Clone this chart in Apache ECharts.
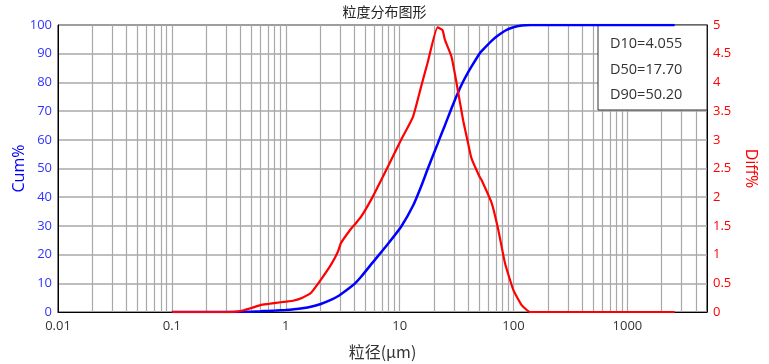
<!DOCTYPE html>
<html><head><meta charset="utf-8">
<script src="https://cdn.jsdelivr.net/npm/echarts@6/dist/echarts.min.js"></script>
<style>html,body{margin:0;padding:0;background:#fff}#c{width:769px;height:364px}</style>
</head><body><div id="c"></div>
<script>
const titleText = '粒度分布图形';
const xName = '粒径(μm)';
const leftName = 'Cum%';
const rightName = 'Diff%';
const statLines = ['D10=4.055', 'D50=17.70', 'D90=50.20'];

const sizes = [0.1, 0.2, 0.3, 0.385, 0.5, 0.6, 0.7, 0.82, 1.0, 1.18, 1.4, 1.66, 2.03, 2.49, 2.87, 3.05, 3.74, 4.06, 4.59, 5.81, 7.88, 10.3, 13.1, 15.5, 17.7, 21.5, 23.8, 25, 28.5, 31.6, 36.1, 39.9, 42.7, 50.2, 52.4, 64.2, 73.5, 84.2, 99.8, 117.9, 139.6, 200, 500, 1000, 2600];
const cumValues = [0, 0, 0, 0.02, 0.12, 0.25, 0.37, 0.5, 0.7, 0.95, 1.3, 1.8, 2.8, 4.2, 5.5, 6.2, 8.8, 10.0, 12.3, 17.3, 23.7, 29.7, 37.0, 43.9, 50.0, 58.5, 63.0, 65.1, 70.9, 75.3, 80.3, 83.5, 85.5, 90.0, 90.9, 94.5, 96.4, 98.0, 99.2, 99.8, 100, 100, 100, 100, 100];
const diffValues = [0, 0, 0, 0.01, 0.07, 0.12, 0.14, 0.16, 0.18, 0.20, 0.25, 0.33, 0.56, 0.82, 1.05, 1.2, 1.45, 1.53, 1.66, 2.01, 2.53, 3.0, 3.40, 3.94, 4.36, 4.96, 4.91, 4.74, 4.45, 3.99, 3.34, 2.94, 2.68, 2.36, 2.30, 1.90, 1.43, 0.85, 0.38, 0.12, 0, 0, 0, 0, 0];

const xMin = 0.01, xMax = 5000;
// minor grid positions (2..9 within each decade)
const minorGrid = [];
for (let e = -2; e <= 3; e++) {
  for (let k = 1; k <= 9; k++) {
    const v = +(k * Math.pow(10, e)).toPrecision(6);
    if (v > xMin && v < xMax) minorGrid.push(v);
  }
}

const FONT = '"Open Sans", "Noto Sans", "Noto Sans CJK SC", sans-serif';
const chart = echarts.init(document.getElementById('c'));
chart.setOption({
  animation: false,
  title: { text: titleText, left: 'center', top: 0, textStyle: { fontSize: 14, fontWeight: 'normal', color: '#222', fontFamily: '"Noto Sans CJK SC", sans-serif' } },
  grid: { left: 58, right: 62, top: 25, bottom: 52, outerBoundsMode: 'none', containLabel: false, show: true, borderColor: '#000', borderWidth: 1, backgroundColor: '#fff' },
  xAxis: {
    type: 'log', logBase: 10, min: xMin, max: xMax, splitNumber: 6,
    name: xName, nameLocation: 'middle', nameGap: 32,
    nameTextStyle: { fontSize: 16, color: '#333', fontFamily: '"Noto Sans CJK SC", sans-serif' },
    axisLine: { lineStyle: { color: '#000', width: 1 } },
    axisTick: { show: false },
    axisLabel: { color: '#333', fontSize: 13, fontFamily: FONT, margin: 8, showMaxLabel: false,
      formatter: v => String(+(+v).toPrecision(6)) },
    splitLine: { show: false }
  },
  yAxis: [
    { type: 'value', min: 0, max: 100, interval: 10, position: 'left',
      name: leftName, nameLocation: 'middle', nameGap: 31, nameRotate: 90, nameMoveOverlap: false,
      nameTextStyle: { fontSize: 16, color: '#0000ff', fontFamily: FONT },
      axisLine: { show: true, lineStyle: { color: '#000' } },
      axisTick: { show: false },
      axisLabel: { color: '#3333ff', fontSize: 13, fontFamily: FONT, margin: 6 },
      splitLine: { show: true, lineStyle: { color: '#a8a8a8', width: 1.5 } } },
    { type: 'value', min: 0, max: 5, interval: 0.5, position: 'right',
      name: rightName, nameLocation: 'middle', nameGap: 30, nameRotate: -90,
      nameTextStyle: { fontSize: 16, color: '#ff0000', fontFamily: FONT },
      axisLine: { show: true, lineStyle: { color: '#000' } },
      axisTick: { show: false },
      axisLabel: { color: '#ff0000', fontSize: 13, fontFamily: FONT, margin: 6 },
      splitLine: { show: false } }
  ],
  graphic: [
    { type: 'group', z: 3, children: [
      { type: 'rect', shape: { x: 598, y: 25, width: 109, height: 85 }, style: { fill: '#fff', stroke: '#333', lineWidth: 1 }, z: 3 },
      ...statLines.map((t, i) => ({ type: 'text', x: 610, y: 44 + i * 25.5, z: 4,
        style: { text: t, fill: '#333', font: '14.5px ' + FONT, textVerticalAlign: 'middle', verticalAlign: 'middle' } }))
    ] }
  ],
  series: [
    { type: 'line', name: 'grid', data: [[0.1, 0]], symbol: 'none', lineStyle: { opacity: 0 }, z: 0, silent: true,
      markLine: { silent: true, symbol: 'none', z: 1, label: { show: false },
        lineStyle: { color: '#a8a8a8', type: 'solid', width: 1.2 },
        data: minorGrid.map(v => ({ xAxis: v })) } },
    { type: 'line', name: 'Cum', yAxisIndex: 0, data: sizes.map((s, i) => [s, cumValues[i]]),
      symbol: 'none', smooth: 0.2, z: 10, lineStyle: { color: '#0000ff', width: 2.5 } },
    { type: 'line', name: 'Diff', yAxisIndex: 1, data: sizes.map((s, i) => [s, diffValues[i]]),
      symbol: 'none', smooth: 0.15, z: 11, lineStyle: { color: '#ff0000', width: 2.2 } }
  ]
});
</script></body></html>
